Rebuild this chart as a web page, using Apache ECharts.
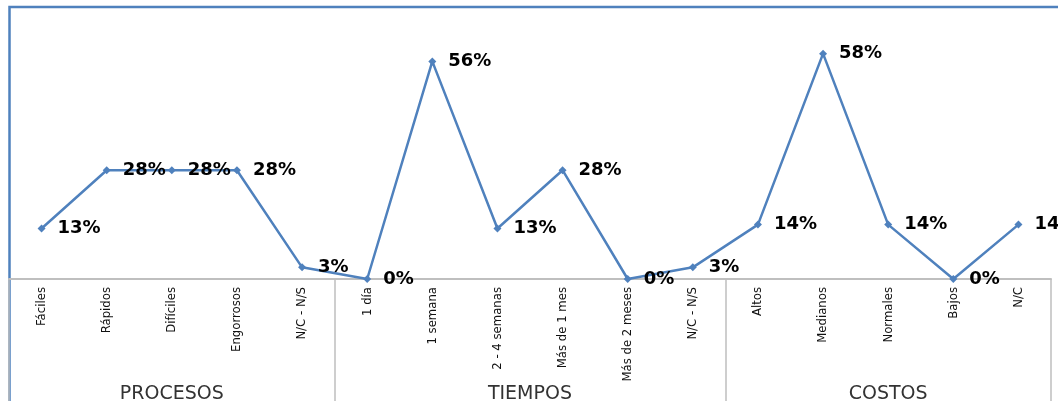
<!DOCTYPE html>
<html>
<head>
<meta charset="utf-8">
<script src="https://cdn.jsdelivr.net/npm/echarts@6/dist/echarts.min.js"></script>
<style>
  html, body { margin: 0; padding: 0; background: #fff; }
  #lineChart { width: 1058px; height: 401px; }
</style>
</head>
<body>
<div id="lineChart"></div>
<script>
  const categories = [
    'Fáciles', 'Rápidos', 'Difíciles', 'Engorrosos', 'N/C - N/S',
    '1 día', '1 semana', '2 - 4 semanas', 'Más de 1 mes', 'Más de 2 meses', 'N/C - N/S',
    'Altos', 'Medianos', 'Normales', 'Bajos', 'N/C',
  ];
  const values = [13, 28, 28, 28, 3, 0, 56, 13, 28, 0, 3, 14, 58, 14, 0, 14];
  const groupNames = ['PROCESOS', 'TIEMPOS', 'COSTOS'];
  const groupSizes = [5, 6, 5];

  let myChart = null;

  // first category index of each group -> separator lines
  function groupStarts() {
    const starts = [];
    let acc = 0;
    groupSizes.forEach((n) => {
      starts.push(acc);
      acc += n;
    });
    return starts;
  }

  // group label sits on the middle category of each group
  function groupAxisData() {
    const out = categories.map((c, i) => ({ value: 'g' + i, textStyle: { color: 'transparent' } }));
    const starts = groupStarts();
    groupSizes.forEach((n, g) => {
      const mid = starts[g] + Math.floor((n - 1) / 2);
      out[mid] = {
        value: groupNames[g],
        // even sized group: push half a band to the right
        textStyle: n % 2 === 0 ? { padding: [0, 0, 0, 65] } : {},
      };
    });
    return out;
  }

  function initChart() {
    const dom = document.getElementById('lineChart');
    if (dom) {
      myChart = echarts.init(dom, null, { renderer: 'canvas' });
      setOption();
    }
  }

  function setOption() {
    const starts = groupStarts();
    const options = {
      animation: false,
      grid: {
        left: 9,
        right: 7,
        top: 7,
        bottom: 122,
        containLabel: false,
        outerBoundsMode: 'none',
      },
      xAxis: [
        {
          type: 'category',
          data: categories,
          boundaryGap: true,
          axisLine: {
            lineStyle: { color: '#BFBFBF', width: 2 },
          },
          axisTick: {
            show: true,
            length: 125,
            interval: (index) => starts.indexOf(index) !== -1,
            lineStyle: { color: '#BFBFBF', width: 1.5 },
          },
          axisLabel: {
            rotate: 90,
            interval: 0,
            margin: 8,
            color: '#111',
            fontSize: 13,
            fontFamily: '"Liberation Sans Narrow", "DejaVu Sans Condensed", sans-serif',
          },
        },
        {
          type: 'category',
          position: 'bottom',
          data: groupAxisData(),
          boundaryGap: true,
          axisLine: { show: false },
          axisTick: { show: false },
          axisLabel: {
            interval: 0,
            margin: 106,
            color: '#333',
            fontSize: 19,
            fontFamily: '"DejaVu Sans", sans-serif',
          },
        },
      ],
      yAxis: {
        type: 'value',
        min: 0,
        max: 70,
        show: false,
      },
      series: [
        {
          type: 'line',
          data: values,
          symbol: 'diamond',
          symbolSize: 8,
          lineStyle: { color: '#4F81BD', width: 2.5 },
          itemStyle: { color: '#4F81BD' },
          label: {
            show: true,
            position: 'right',
            distance: 12,
            formatter: '{c}%',
            color: '#000',
            fontSize: 18,
            fontWeight: 'bold',
            fontFamily: '"DejaVu Sans", sans-serif',
          },
        },
      ],
      graphic: [
        {
          type: 'rect',
          shape: { x: 9.5, y: 7, width: 1200, height: 600 },
          style: { fill: 'none', stroke: '#4F81BD', lineWidth: 2.5 },
          silent: true,
        },
      ],
    };
    if (myChart) {
      myChart.setOption(options);
    }
  }

  initChart();
</script>
</body>
</html>
